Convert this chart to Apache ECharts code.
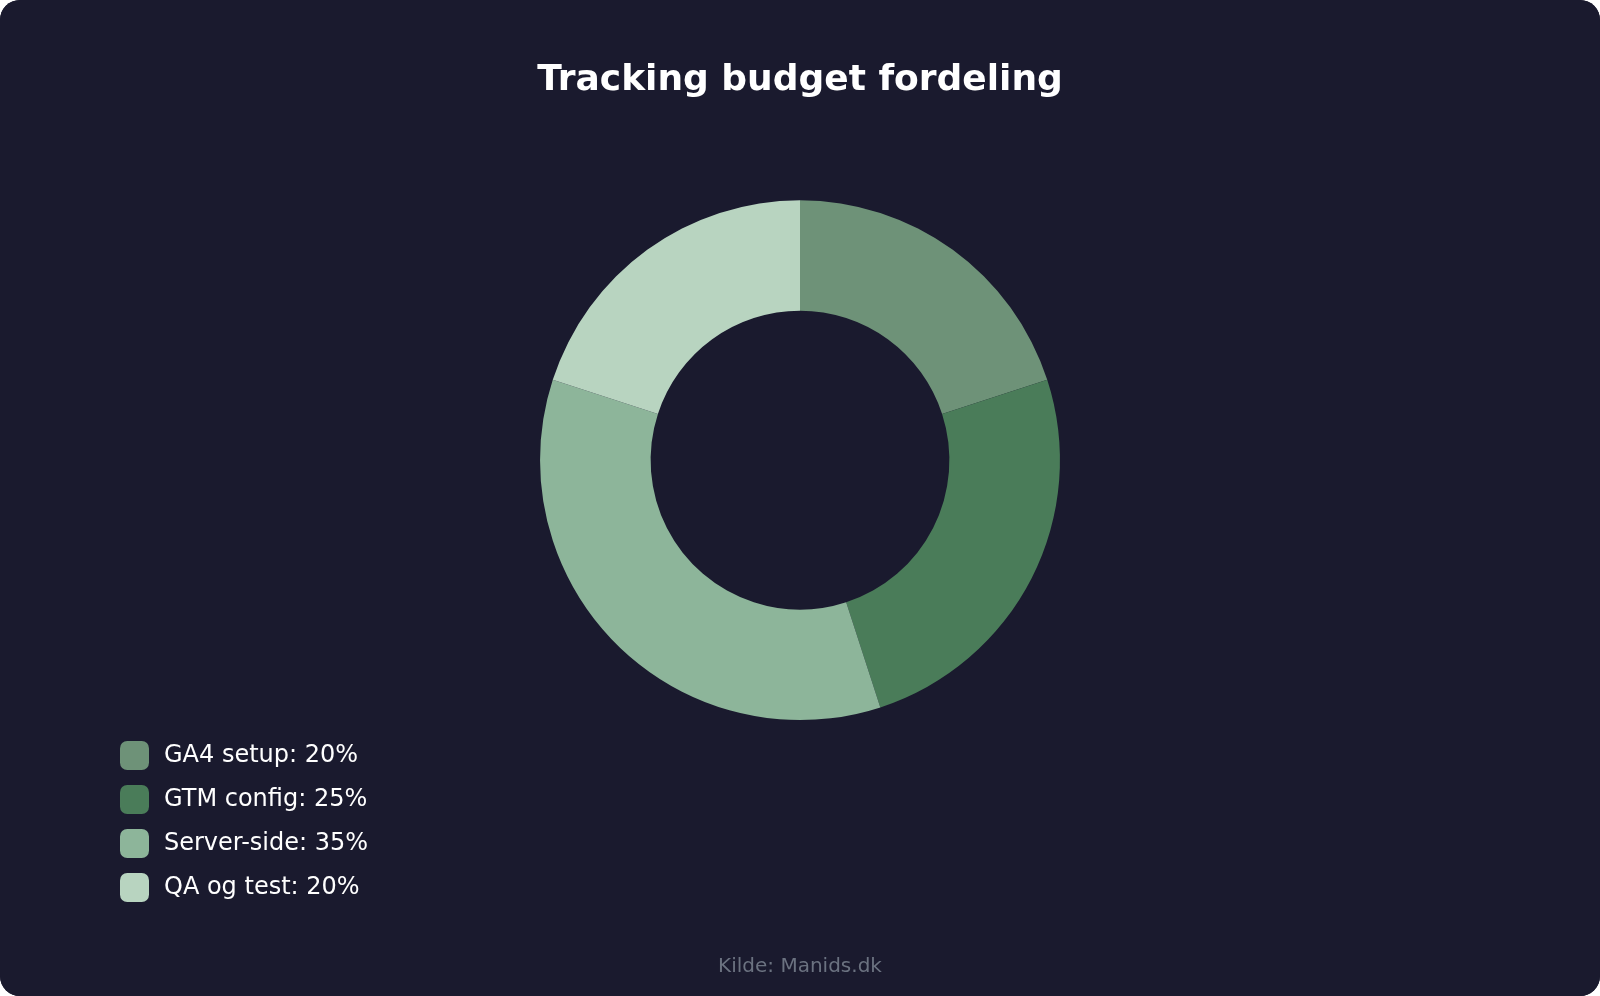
<!DOCTYPE html>
<html>
<head>
<meta charset="utf-8">
<title>Tracking budget fordeling</title>
<script src="https://cdn.jsdelivr.net/npm/echarts@6/dist/echarts.min.js"></script>
<style>
	html, body { margin: 0; padding: 0; background: #ffffff; }
	#chart { width: 1600px; height: 996px; background: #1a1a2e; border-radius: 20px; overflow: hidden; }
</style>
</head>
<body>
<div id="chart"></div>
<script>
var categories = ['GA4 setup', 'GTM config', 'Server-side', 'QA og test'];
var shares = [20, 25, 35, 20];
var colors = ['#6e9278', '#4a7c59', '#8db59a', '#b8d4c0'];

var seriesData = [];
for (var i = 0; i < categories.length; i++) {
	seriesData.push({ name: categories[i], value: shares[i], itemStyle: { color: colors[i] } });
}

var myChart = echarts.init(document.getElementById('chart'));
var option = {
	backgroundColor: '#1a1a2e',
	textStyle: { fontFamily: 'DejaVu Sans' },
	title: {
		text: 'Tracking budget fordeling',
		left: 'center',
		top: 58,
		textStyle: { color: '#ffffff', fontSize: 36, fontWeight: 'bold', fontFamily: 'DejaVu Sans' }
	},
	legend: {
		orient: 'vertical',
		left: 115,
		bottom: 89,
		icon: 'roundRect',
		itemWidth: 29,
		itemHeight: 29,
		itemGap: 15,
		data: categories,
		formatter: function (name) {
			var idx = categories.indexOf(name);
			return name + ': ' + shares[idx] + '%';
		},
		textStyle: { color: '#ffffff', fontSize: 24, padding: [0, 0, 0, 10], fontFamily: 'DejaVu Sans' }
	},
	graphic: [{
		type: 'text',
		left: 'center',
		top: 957,
		style: { text: 'Kilde: Manids.dk', fill: '#6b7280', fontSize: 20, fontFamily: 'DejaVu Sans' }
	}],
	series: [{
		name: 'Tracking budget',
		type: 'pie',
		center: ['50%', '46.2%'],
		radius: ['30%', '52.2%'],
		startAngle: 90,
		clockwise: true,
		label: { show: false },
		labelLine: { show: false },
		emphasis: { scale: false },
		itemStyle: { borderWidth: 0 },
		data: seriesData
	}]
};
myChart.setOption(option);
</script>
</body>
</html>
